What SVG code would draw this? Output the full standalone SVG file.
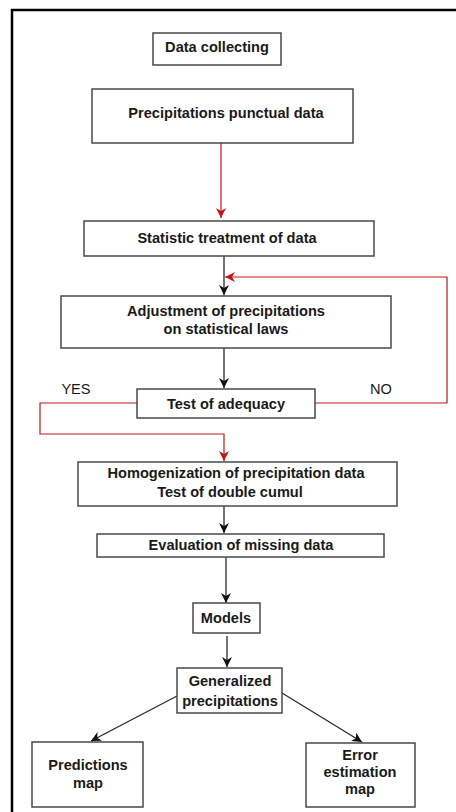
<svg xmlns="http://www.w3.org/2000/svg" width="456" height="812" viewBox="0 0 456 812">
<defs>
<style>
.box{fill:#fff;stroke:#4a4a4a;stroke-width:1.5}
.t{font-family:"Liberation Sans",Arial,sans-serif;font-size:14.6px;font-weight:bold;fill:#1a1a1a;text-anchor:middle}
.k{fill:none;stroke:#2a2a2a;stroke-width:1.3}
.r{fill:none;stroke:#c01818;stroke-width:1.2}
</style>
<marker id="ak" viewBox="0 0 10 10" refX="10" refY="5" markerWidth="10" markerHeight="10" markerUnits="userSpaceOnUse" orient="auto">
<path d="M0,0 L10,5 L0,10 L3,5 z" fill="#111"/>
</marker>
<marker id="ar" viewBox="0 0 10 10" refX="10" refY="5" markerWidth="10" markerHeight="10" markerUnits="userSpaceOnUse" orient="auto">
<path d="M0,0 L10,5 L0,10 L3,5 z" fill="#c01818"/>
</marker>
</defs>
<rect x="0" y="0" width="456" height="812" fill="#fff"/>
<path d="M12,812 L12,10 L456,10" fill="none" stroke="#000" stroke-width="2.5"/>

<g id="connectors">
<path class="r" d="M221,143 L221,218" marker-end="url(#ar)"/>
<path class="k" d="M224,256 L224,295" marker-end="url(#ak)"/>
<path class="r" d="M315,403 L447,403 L447,277 L225,277" marker-end="url(#ar)"/>
<path class="k" d="M224,348 L224,388" marker-end="url(#ak)"/>
<path class="r" d="M137,403 L40,403 L40,434 L224,434 L224,461" marker-end="url(#ar)"/>
<path class="k" d="M224,506 L224,533" marker-end="url(#ak)"/>
<path class="k" d="M226,557 L226,603" marker-end="url(#ak)"/>
<path class="k" d="M227,636 L227,667" marker-end="url(#ak)"/>
<path class="k" d="M177,696 L91,741" marker-end="url(#ak)"/>
<path class="k" d="M282,693 L362,742" marker-end="url(#ak)"/>
</g>

<g id="data-collecting">
<rect class="box" x="153" y="33" width="128" height="32"/>
<text class="t" x="217" y="52">Data collecting</text>
</g>
<g id="punctual-data">
<rect class="box" x="92" y="89" width="261" height="54"/>
<text class="t" x="226" y="118">Precipitations punctual data</text>
</g>
<g id="statistic-treatment">
<rect class="box" x="84" y="221" width="290" height="35"/>
<text class="t" x="227" y="243">Statistic treatment of data</text>
</g>
<g id="adjustment">
<rect class="box" x="61" y="296" width="330" height="52"/>
<text class="t" x="226" y="316">Adjustment of precipitations</text>
<text class="t" x="226" y="334">on statistical laws</text>
</g>
<g id="test-adequacy">
<rect class="box" x="137" y="389" width="178" height="29"/>
<text class="t" x="226" y="409">Test of adequacy</text>
</g>
<g id="yes-label"><text class="t" x="76" y="394" style="font-weight:normal">YES</text></g>
<g id="no-label"><text class="t" x="381" y="394" style="font-weight:normal">NO</text></g>
<g id="homogenization">
<rect class="box" x="78" y="462" width="319" height="44"/>
<text class="t" x="236" y="478">Homogenization of precipitation data</text>
<text class="t" x="230" y="497">Test of double cumul</text>
</g>
<g id="evaluation">
<rect class="box" x="97" y="534" width="287" height="23"/>
<text class="t" x="241" y="550">Evaluation of missing data</text>
</g>
<g id="models">
<rect class="box" x="193" y="603" width="67" height="30"/>
<text class="t" x="226" y="623">Models</text>
</g>
<g id="generalized">
<rect class="box" x="177" y="668" width="105" height="45"/>
<text class="t" x="230" y="686">Generalized</text>
<text class="t" x="230" y="706">precipitations</text>
</g>
<g id="predictions-map">
<rect class="box" x="32" y="742" width="111" height="65"/>
<text class="t" x="88" y="770">Predictions</text>
<text class="t" x="88" y="788">map</text>
</g>
<g id="error-map">
<rect class="box" x="306" y="743" width="109" height="64"/>
<text class="t" x="360" y="760">Error</text>
<text class="t" x="360" y="777">estimation</text>
<text class="t" x="360" y="794">map</text>
</g>
</svg>
